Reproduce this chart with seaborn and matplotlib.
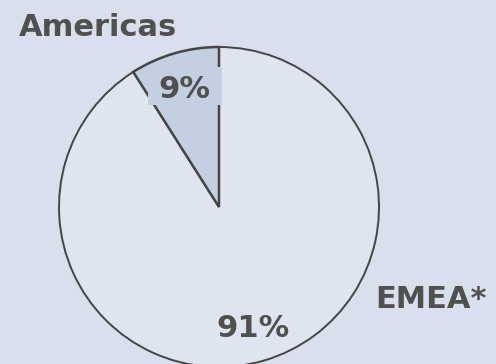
import matplotlib
matplotlib.use("Agg")
import matplotlib.pyplot as plt
from matplotlib.patches import Rectangle
import seaborn as sns

# Regional split
regions = ["Americas", "EMEA*"]
shares = [9, 91]
share_labels = ["9%", "91%"]

BG = "#D9DFEC"
slice_colors = ["#C4CFE1", "#DFE5F0"]
edge = "#454545"
text_color = "#505050"

sns.set_theme(style="white")
plt.rcParams["font.family"] = ["DejaVu Sans"]

fig = plt.figure(figsize=(4.96, 3.64), dpi=100, facecolor=BG)
ax = fig.add_axes([0, 0, 1, 1])
ax.set_facecolor(BG)

wedges, _ = ax.pie(
    shares,
    colors=slice_colors,
    startangle=90,
    counterclock=True,
    radius=1.0,
    wedgeprops=dict(edgecolor=edge, linewidth=1.4),
)
# small slice drawn on top so its edges stay crisp
wedges[0].set_zorder(3)
wedges[0].set_linewidth(1.8)

ax.set_aspect("equal")
ax.set_xlim(-1.36875, 1.73125)
ax.set_ylim(-0.98125, 1.29375)
ax.axis("off")

FS = 22

# label plate behind the small-slice percentage
ax.add_patch(Rectangle((-0.444, 0.6375), 0.463, 0.2375,
                       facecolor=slice_colors[0], edgecolor="none", zorder=4))

# Percentage labels
ax.text(-0.219, 0.684, share_labels[0], ha="center", va="baseline",
        fontsize=FS, fontweight="bold", color=text_color, zorder=5)
ax.text(0.2125, -0.8125, share_labels[1], ha="center", va="baseline",
        fontsize=FS, fontweight="bold", color=text_color)

# Region names
ax.text(-1.25, 1.069, regions[0], ha="left", va="baseline",
        fontsize=FS, fontweight="bold", color=text_color)
ax.text(0.975, -0.631, regions[1], ha="left", va="baseline",
        fontsize=FS, fontweight="bold", color=text_color)

fig.savefig("out.png", dpi=100, facecolor=BG)
